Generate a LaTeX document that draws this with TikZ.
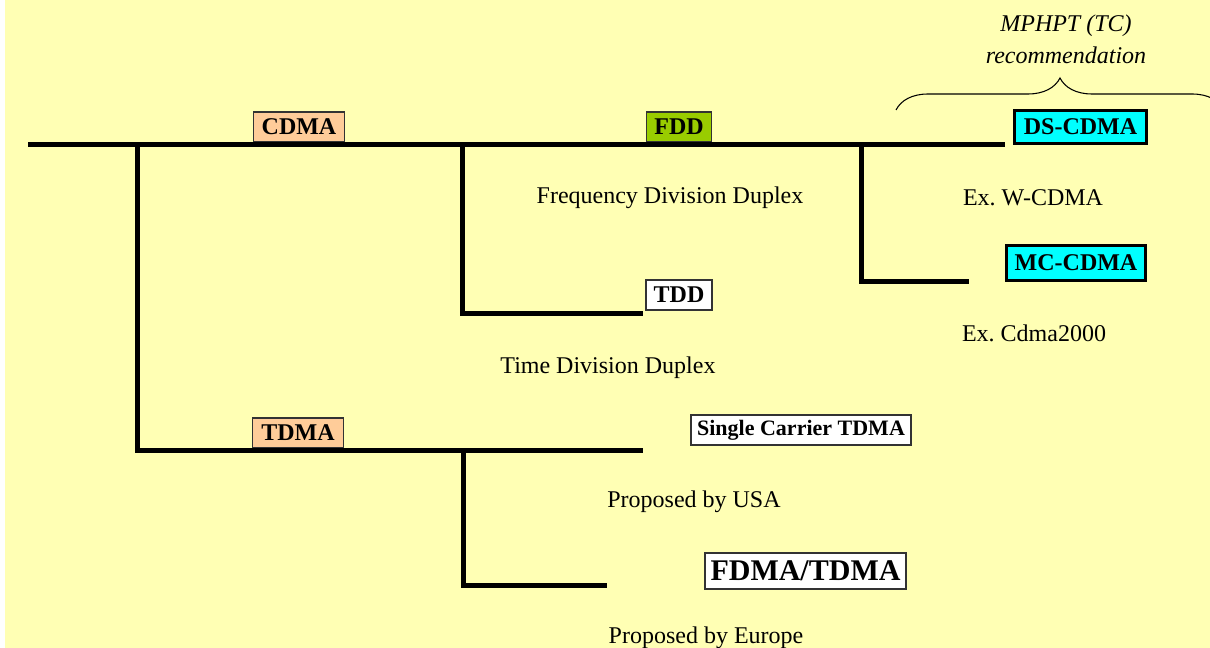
\documentclass[tikz,border=0pt]{standalone}
\usepackage{fontspec}
\setmainfont{Liberation Serif}
\usetikzlibrary{decorations.pathreplacing}
\definecolor{bgyellow}{RGB}{255,255,180}
\definecolor{peach}{RGB}{255,204,153}
\definecolor{lime}{RGB}{153,204,0}
\definecolor{aqua}{RGB}{0,255,255}

\begin{document}
\begin{tikzpicture}[x=0.75pt,y=-0.75pt,
  tree/.style={line width=3.75pt},
  tag/.style={draw=black!80,line width=1pt,inner sep=0pt,
    font=\fontsize{18}{20}\selectfont\bfseries},
  boldtag/.style={tag,draw=black,line width=2.25pt},
  note/.style={font=\fontsize{18}{20}\selectfont}]
\useasboundingbox (0,0) rectangle (1210,648);
\fill[bgyellow] (5,0) rectangle (1210,648);
% boxes
\node[tag,fill=peach,minimum width=68pt,minimum height=22.5pt] (cdma) at (299,127) {CDMA};
\node[tag,fill=lime,minimum width=49pt,minimum height=22.5pt] (fdd) at (679,127) {FDD};
\node[boldtag,fill=aqua,minimum width=99pt,minimum height=25pt] (ds) at (1080.5,127) {DS-CDMA};
\node[boldtag,fill=aqua,minimum width=104pt,minimum height=26pt] (mc) at (1076,263) {MC-CDMA};
\node[tag,fill=white,line width=1.5pt,minimum width=49pt,minimum height=23pt] (tdd) at (679,295) {TDD};
\node[tag,fill=peach,minimum width=68pt,minimum height=22.5pt] (tdma) at (298,433) {TDMA};
\node[tag,fill=white,line width=1.5pt,minimum width=165pt,minimum height=22pt,
  font=\fontsize{16.5}{18}\selectfont\bfseries] (sc) at (801,430) {Single Carrier TDMA};
\node[tag,fill=white,line width=1.5pt,minimum width=151pt,minimum height=27.5pt,
  font=\fontsize{22.5}{24}\selectfont\bfseries] (ft) at (805.5,571) {FDMA/TDMA};
% notes
\node[note] (fddtxt) at (670,198) {Frequency Division Duplex};
\node[note] (wcdma) at (1033,198) {Ex.\ W-CDMA};
\node[note] (cdma2k) at (1034,333) {Ex.\ Cdma2000};
\node[note] (tddtxt) at (608,368) {Time Division Duplex};
\node[note] (usa) at (694,502) {Proposed by USA};
\node[note] (eur) at (706,638) {Proposed by Europe};
\node[note,font=\fontsize{18}{20}\selectfont\itshape,align=center] (rec) at (1066,39)
  {MPHPT (TC)\\[4pt]recommendation};
% tree
\coordinate (root) at (28,145);
\coordinate (jT) at (137,145);
\coordinate (jD) at (462,145);
\coordinate (jM) at (861,145);
\coordinate (eDS) at (1005,145);
\coordinate (eM) at (969,282);
\coordinate (eD) at (643,314);
\coordinate (eS) at (643,450);
\coordinate (jF) at (463,450);
\coordinate (eF) at (607,585);
\draw[tree] (root) -- (eDS);
\draw[tree] (jT) |- (eS);
\draw[tree] (jD) |- (eD);
\draw[tree] (jM) |- (eM);
\draw[tree] (jF) |- (eF);
% brace
\coordinate (bl) at (896,110);
\coordinate (br) at (1224,110);
\draw[line width=0.8pt,decorate,decoration={brace,amplitude=24pt}] (bl) -- (br);
\end{tikzpicture}
\end{document}
